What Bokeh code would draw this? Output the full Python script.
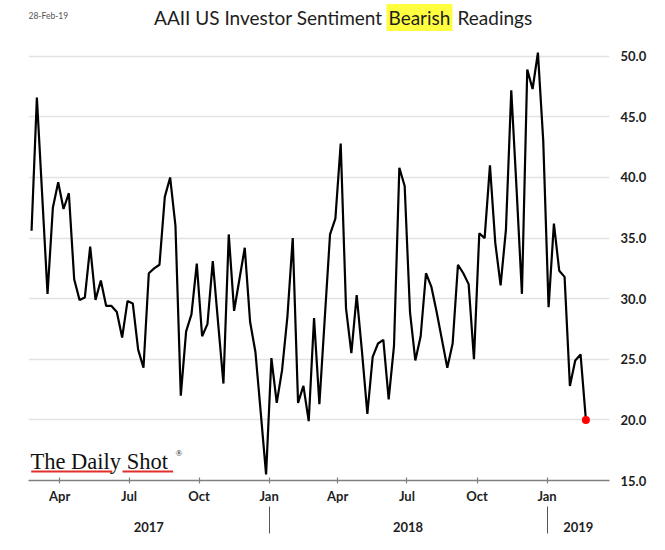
import pandas as pd
from bokeh.plotting import figure
from bokeh.models import (Range1d, FixedTicker, CustomJSTickFormatter,
                          Label, BoxAnnotation, PrintfTickFormatter, ColumnDataSource, LinearAxis)
from bokeh.embed import file_html
from bokeh.resources import INLINE

# ---------------- data ----------------
first_week = "2017-02-23"
n_weeks = 105
bearish = [
    35.6, 46.6, 38.5, 30.4, 37.5, 39.6, 37.4, 38.7, 31.6, 29.9,
    30.1, 34.3, 29.9, 31.5, 29.4, 29.4, 28.9, 26.8, 29.8, 29.6,
    25.8, 24.3, 32.1, 32.5, 32.8, 38.4, 40.0, 36.0, 22.0, 27.3,
    28.7, 32.9, 26.9, 27.9, 33.1, 28.0, 23.0, 35.3, 29.0, 31.6,
    34.2, 28.1, 25.6, 20.6, 15.5, 25.1, 21.4, 24.1, 28.5, 35.0,
    21.4, 22.8, 19.9, 28.4, 21.3, 28.3, 35.3, 36.6, 42.8, 29.2,
    25.5, 30.3, 25.6, 20.5, 25.2, 26.3, 26.6, 21.7, 26.1, 40.8,
    39.3, 28.9, 24.9, 26.9, 32.1, 31.0, 28.9, 26.6, 24.3, 26.3,
    32.8, 32.1, 31.2, 25.0, 35.4, 35.0, 41.0, 34.6, 31.1, 35.7,
    47.2, 39.0, 30.4, 48.9, 47.3, 50.3, 43.0, 29.3, 36.2, 32.3,
    31.8, 22.8, 24.9, 25.4, 20.0,
]
quarter_ticks = ["2017-04-01", "2017-07-01", "2017-10-01", "2018-01-01",
                 "2018-04-01", "2018-07-01", "2018-10-01", "2019-01-01"]
year_bounds = ["2018-01-01", "2019-01-01"]
y_ticks = [15, 20, 25, 30, 35, 40, 45, 50]
title_left = "AAII US Investor Sentiment"
title_mark = "Bearish"
title_right = "Readings"
date_note = "28-Feb-19"
brand = "The Daily Shot"

dates = pd.date_range(first_week, periods=n_weeks, freq="7D")
src = ColumnDataSource(dict(x=dates, y=bearish))
last = ColumnDataSource(dict(x=dates[-1:], y=bearish[-1:]))


def ms(d):
    return pd.Timestamp(d).value / 1e6


x_start = ms("2017-02-19")
x_end = ms("2019-03-24")

# frame runs up to the top of the canvas so the title can sit inside it
p = figure(width=649, height=534, output_backend="svg", toolbar_location=None,
           x_axis_type="datetime", y_axis_location="right",
           x_range=Range1d(x_start, x_end), y_range=Range1d(15, 54.6),
           min_border_left=28, min_border_right=39, min_border_top=0,
           min_border_bottom=52)
p.outline_line_color = None
p.background_fill_color = "white"

# line + last point
p.line("x", "y", source=src, line_color="black", line_width=2.2)
p.scatter("x", "y", source=last, size=8, fill_color="#ff0000", line_color=None)

# y axis (right)
ya = p.yaxis[0]
ya.ticker = FixedTicker(ticks=y_ticks)
ya.formatter = PrintfTickFormatter(format="%.1f")
ya.axis_line_color = None
ya.major_tick_line_color = None
ya.minor_tick_line_color = None
ya.major_tick_out = 0
ya.major_tick_in = 0
ya.major_label_standoff = 11
ya.major_label_text_font = "Lato"
ya.major_label_text_font_style = "bold"
ya.major_label_text_font_size = "13px"
ya.major_label_text_color = "#1e1e1e"

p.xgrid.grid_line_color = None
p.ygrid.grid_line_color = "#e2e2e2"
p.ygrid.grid_line_width = 1.3

# x axis (months)
xa = p.xaxis[0]
xa.ticker = FixedTicker(ticks=[ms(d) for d in quarter_ticks])
xa.formatter = CustomJSTickFormatter(code="""
const m = new Date(tick).getUTCMonth();
return ["Jan","Feb","Mar","Apr","May","Jun","Jul","Aug","Sep","Oct","Nov","Dec"][m];
""")
xa.axis_line_color = "#808080"
xa.axis_line_width = 1.6
xa.major_tick_line_color = "#808080"
xa.major_tick_line_width = 1.2
xa.major_tick_in = 3
xa.major_tick_out = 3
xa.minor_tick_line_color = None
xa.major_label_standoff = 4
xa.major_label_text_font = "Lato"
xa.major_label_text_font_style = "bold"
xa.major_label_text_font_size = "13px"
xa.major_label_text_color = "#1e1e1e"

# x axis (years): labels centred in their segments, separators as minor ticks
bounds = [ms(d) for d in year_bounds]
edges = [x_start] + bounds + [x_end]
mids = [(a + b) / 2 for a, b in zip(edges[:-1], edges[1:])]
yr = LinearAxis(ticker=FixedTicker(ticks=mids, minor_ticks=bounds),
                formatter=CustomJSTickFormatter(code="return String(new Date(tick).getUTCFullYear());"))
yr.axis_line_color = None
yr.major_tick_line_color = None
yr.major_tick_in = 0
yr.major_tick_out = 0
yr.minor_tick_line_color = "#555555"
yr.minor_tick_line_width = 1
yr.minor_tick_in = 0
yr.minor_tick_out = 27
yr.major_label_standoff = -12
yr.major_label_text_font = "Lato"
yr.major_label_text_font_style = "bold"
yr.major_label_text_font_size = "13px"
yr.major_label_text_color = "#1e1e1e"
p.add_layout(yr, "below")

# title (split for highlight)
ty = 463
tfs = "19px"
p.add_layout(Label(x=354, y=ty, x_units="screen", y_units="screen", text=title_left,
                   text_align="right", text_baseline="middle", text_font="Lato",
                   text_font_size=tfs, text_color="#1e1e1e"))
p.add_layout(Label(x=358, y=ty, x_units="screen", y_units="screen", text=title_mark,
                   text_align="left", text_baseline="middle", text_font="Lato",
                   text_font_size=tfs, text_color="#1e1e1e",
                   background_fill_color="#ffff40", padding=2))
p.add_layout(Label(x=429, y=ty, x_units="screen", y_units="screen", text=title_right,
                   text_align="left", text_baseline="middle", text_font="Lato",
                   text_font_size=tfs, text_color="#1e1e1e"))
p.add_layout(Label(x=0, y=465, x_units="screen", y_units="screen", text=date_note,
                   text_align="left", text_baseline="middle", text_font="Lato",
                   text_font_size="8.5px", text_color="#555555"))

# watermark
p.add_layout(Label(x=2, y=19, x_units="screen", y_units="screen", text=brand,
                   text_align="left", text_baseline="alphabetic", text_font="Liberation Serif",
                   text_font_size="22.5px", text_color="#111111"))
p.add_layout(Label(x=147, y=28, x_units="screen", y_units="screen", text="®",
                   text_align="left", text_baseline="alphabetic", text_font="Liberation Serif",
                   text_font_size="9px", text_color="#111111"))
for l, r in [(2.7, 83.7), (94, 144.6)]:
    p.add_layout(BoxAnnotation(left=l, right=r, bottom=8, top=10, left_units="screen",
                               right_units="screen", bottom_units="screen", top_units="screen",
                               fill_color="#e0302a", fill_alpha=1, line_color=None))

open("out.html", "w").write(file_html(p, INLINE))
